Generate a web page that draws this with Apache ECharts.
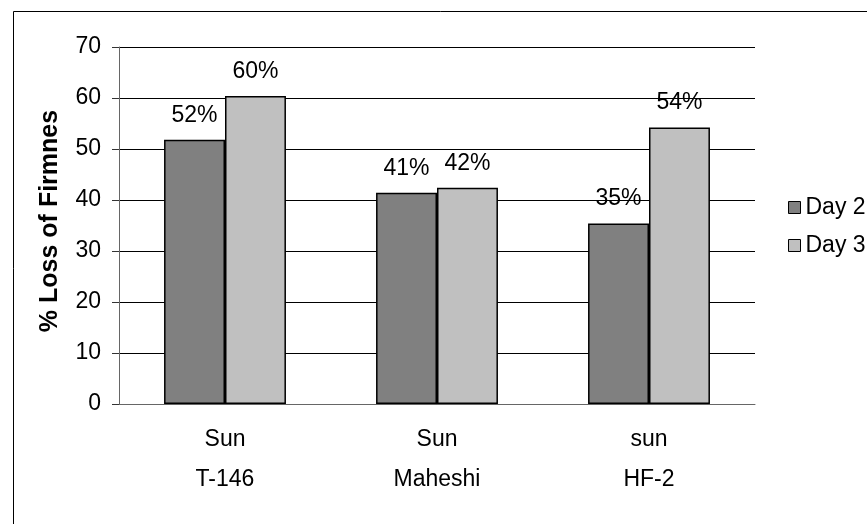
<!DOCTYPE html>
<html>
<head>
<meta charset="utf-8">
<script src="https://cdn.jsdelivr.net/npm/echarts@6/dist/echarts.min.js"></script>
<style>
  html, body { margin: 0; padding: 0; background: #fff; }
  #chart { width: 867px; height: 524px; }
</style>
</head>
<body>
<div id="chart"></div>
<script>
// firmness loss by cultivar, two days
var cultivars = ['T-146', 'Maheshi', 'HF-2'];
var treatments = ['Sun', 'Sun', 'sun'];
var day2 = [51.8, 41.4, 35.4];
var day3 = [60.4, 42.4, 54.2];
var seriesNames = ['Day 2', 'Day 3'];
var yTitle = '% Loss of Firmness';

var FONT = '"Liberation Sans", Arial, sans-serif';
var FS = 23;
var chart = echarts.init(document.getElementById('chart'));

function pct(p) {
	return Math.round(p.value) + '%';
}

chart.setOption({
	animation: false,
	textStyle: { fontFamily: FONT, color: '#000' },
	graphic: [{
		type: 'rect',
		left: 11, top: 9,
		shape: { width: 900, height: 600 },
		style: { fill: 'none', stroke: '#000', lineWidth: 1 }
	}, {
		// title is cut off at the top in the original
		type: 'text',
		x: 50, y: 221,
		rotation: Math.PI / 2,
		style: {
			text: yTitle,
			font: 'bold 25px ' + FONT,
			fill: '#000',
			align: 'center',
			verticalAlign: 'middle',
			width: 236,
			overflow: 'truncate',
			ellipsis: ''
		}
	}],
	grid: {
		left: 119, top: 47, right: 112, bottom: 120,
		outerBoundsMode: 'none'
	},
	legend: {
		orient: 'vertical',
		left: 783, top: 191,
		itemWidth: 12, itemHeight: 12,
		itemGap: 15,
		icon: 'rect',
		textStyle: { fontSize: FS, color: '#000', fontFamily: FONT },
		itemStyle: { borderColor: '#000', borderWidth: 1 },
		data: seriesNames
	},
	xAxis: [{
		type: 'category',
		data: treatments,
		axisLine: { lineStyle: { color: '#666' } },
		axisTick: { length: 100, lineStyle: { color: '#666' } },
		axisLabel: { fontSize: FS, color: '#000', margin: 24 }
	}, {
		type: 'category',
		data: cultivars,
		position: 'bottom',
		axisLine: { show: false },
		axisTick: { show: false },
		axisLabel: { fontSize: FS, color: '#000', margin: 64 }
	}],
	yAxis: {
		type: 'value',
		min: 0, max: 70, interval: 10,
		axisLine: { show: true, lineStyle: { color: '#666' } },
		axisTick: { show: true, length: 7, lineStyle: { color: '#333' } },
		axisLabel: { fontSize: FS, color: '#000', margin: 18 },
		splitLine: { lineStyle: { color: '#000', width: 1 } }
	},
	series: [{
		name: seriesNames[0],
		type: 'bar',
		data: day2,
		barGap: '0%',
		barCategoryGap: '42.5%',
		itemStyle: { color: '#808080', borderColor: '#000', borderWidth: 1.5 },
		label: { show: true, position: 'top', distance: 13, fontSize: FS, color: '#000', formatter: pct }
	}, {
		name: seriesNames[1],
		type: 'bar',
		data: day3,
		barGap: '0%',
		barCategoryGap: '42.5%',
		itemStyle: { color: '#C0C0C0', borderColor: '#000', borderWidth: 1.5 },
		label: { show: true, position: 'top', distance: 13, fontSize: FS, color: '#000', formatter: pct }
	}]
});
</script>
</body>
</html>
